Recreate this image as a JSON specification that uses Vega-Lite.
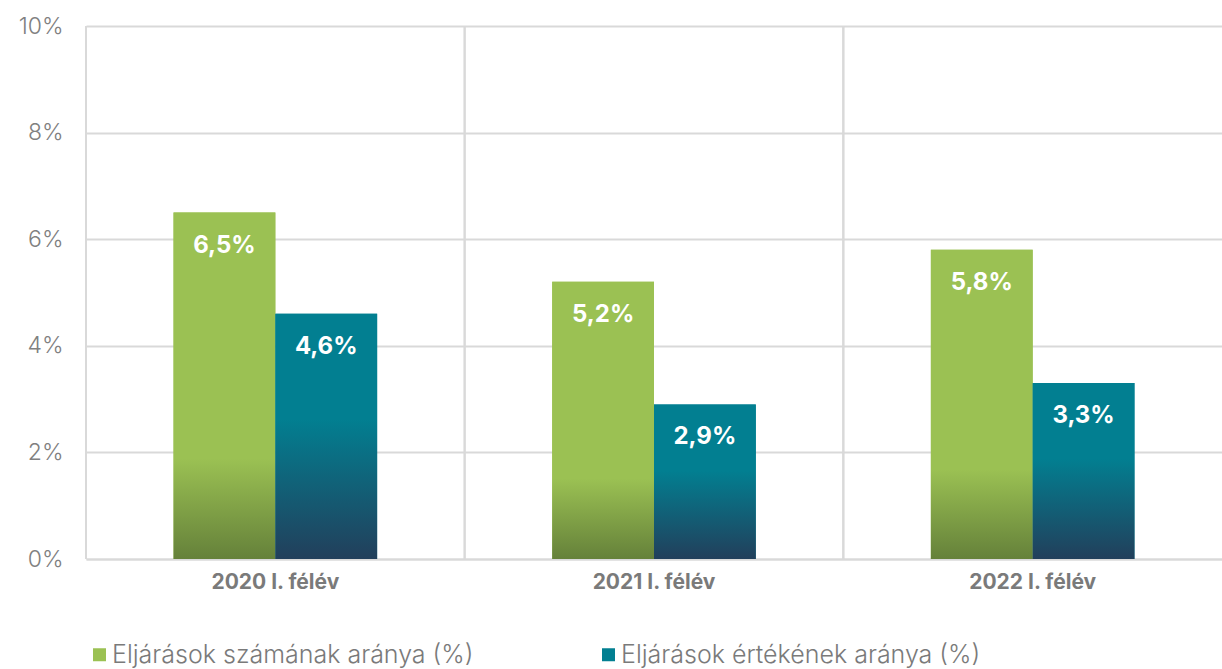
{
  "$schema": "https://vega.github.io/schema/vega-lite/v6.json",
  "width": 1136,
  "height": 533,
  "autosize": "none",
  "padding": {"left": 86, "top": 26, "right": 0, "bottom": 110},
  "background": "white",
  "config": {
    "locale": {"number": {"decimal": ",", "thousands": " ", "grouping": [3], "currency": ["", " Ft"]}},
    "view": {"stroke": null},
    "font": "Inter",
    "axis": {"gridColor": "#d9d9d9", "gridWidth": 2, "domain": false, "ticks": false}
  },
  "data": {"values": [
    {"period": "2020 I. félév", "series": "Eljárások számának aránya (%)", "value": 0.065},
    {"period": "2020 I. félév", "series": "Eljárások értékének aránya (%)", "value": 0.046},
    {"period": "2021 I. félév", "series": "Eljárások számának aránya (%)", "value": 0.052},
    {"period": "2021 I. félév", "series": "Eljárások értékének aránya (%)", "value": 0.029},
    {"period": "2022 I. félév", "series": "Eljárások számának aránya (%)", "value": 0.058},
    {"period": "2022 I. félév", "series": "Eljárások értékének aránya (%)", "value": 0.033}
  ]},
  "encoding": {
    "x": {"field": "period", "type": "nominal", "scale": {"paddingInner": 0, "paddingOuter": 0},
      "axis": {"title": null, "labelAngle": 0, "labelFontSize": 21, "labelFontWeight": "bold", "labelColor": "#7a7a7a", "labelPadding": 12, "grid": false, "domain": true, "domainColor": "#d9d9d9", "domainWidth": 2}}
  },
  "layer": [
    {
      "mark": {"type": "rule", "color": "#d9d9d9", "strokeWidth": 2},
      "encoding": {"x": {"field": "period", "type": "nominal", "bandPosition": 0}}
    },
    {
      "mark": {"type": "bar"},
      "encoding": {
        "xOffset": {"field": "series", "type": "nominal", "sort": ["Eljárások számának aránya (%)", "Eljárások értékének aránya (%)"], "scale": {"paddingInner": 0, "paddingOuter": 0.86}},
        "y": {"field": "value", "type": "quantitative", "scale": {"domain": [0, 0.1]},
          "axis": {"title": null, "values": [0, 0.02, 0.04, 0.06, 0.08, 0.1], "format": ".0%", "labelFontSize": 23, "labelColor": "#808080", "labelPadding": 23, "labelFontWeight": 300, "grid": true}},
        "color": {"field": "series", "type": "nominal",
          "scale": {"domain": ["Eljárások számának aránya (%)", "Eljárások értékének aránya (%)"], "range": ["#9bc153", "#027f91"]},
          "legend": {"title": null, "orient": "none", "legendX": 1, "legendY": 616, "direction": "horizontal", "symbolType": "square", "symbolSize": 169, "symbolStrokeWidth": 0, "labelFontSize": 25, "labelColor": "#7a7a7a", "labelFontWeight": 300, "labelOffset": 0, "columnPadding": 122, "labelLimit": 600}}
      }
    },
    {
      "transform": [{"filter": "datum.series === 'Eljárások számának aránya (%)'"}],
      "mark": {"type": "bar", "color": {"gradient": "linear", "x1": 0, "y1": 0, "x2": 0, "y2": 1, "stops": [
        {"offset": 0, "color": "#9bc153"}, {"offset": 0.71, "color": "#9bc153"}, {"offset": 1, "color": "#65813a"}]}},
      "encoding": {
        "xOffset": {"field": "series", "type": "nominal", "sort": ["Eljárások számának aránya (%)", "Eljárások értékének aránya (%)"]},
        "y": {"field": "value", "type": "quantitative"}
      }
    },
    {
      "transform": [{"filter": "datum.series === 'Eljárások értékének aránya (%)'"}],
      "mark": {"type": "bar", "color": {"gradient": "linear", "x1": 0, "y1": 0, "x2": 0, "y2": 1, "stops": [
        {"offset": 0, "color": "#027f91"}, {"offset": 0.43, "color": "#027f91"}, {"offset": 1, "color": "#223f5b"}]}},
      "encoding": {
        "xOffset": {"field": "series", "type": "nominal", "sort": ["Eljárások számának aránya (%)", "Eljárások értékének aránya (%)"]},
        "y": {"field": "value", "type": "quantitative"}
      }
    },
    {
      "mark": {"type": "text", "color": "white", "fontSize": 24, "fontWeight": "bold", "baseline": "top", "dy": 21},
      "encoding": {
        "xOffset": {"field": "series", "type": "nominal", "sort": ["Eljárások számának aránya (%)", "Eljárások értékének aránya (%)"]},
        "y": {"field": "value", "type": "quantitative"},
        "text": {"field": "value", "type": "quantitative", "format": ".1%"}
      }
    }
  ]
}
